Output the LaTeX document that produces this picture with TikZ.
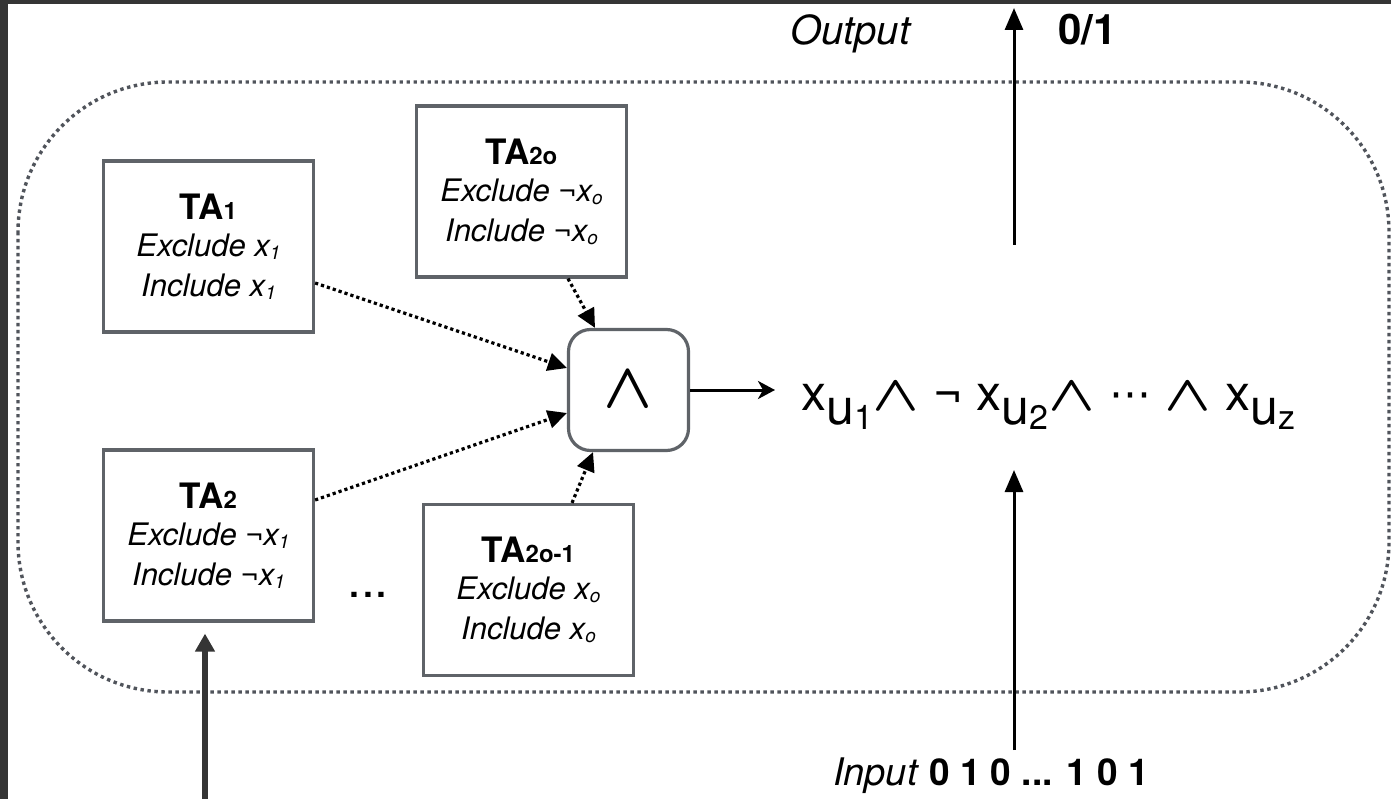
\documentclass[tikz,border=0pt]{standalone}
\usepackage{fix-cm}
\usepackage{fontspec}
\setmainfont{TeX Gyre Heros}
\newfontfamily\symfont{DejaVu Sans}
\usetikzlibrary{arrows.meta}

\definecolor{framegray}{HTML}{50545B}
\definecolor{boxgray}{HTML}{5F6368}
\definecolor{darkband}{HTML}{353535}

% subscripts: in box titles, in box lines, in the clause formula
\newcommand{\tsub}[1]{{\fontsize{24}{24}\selectfont #1}}
\newcommand{\isub}[1]{\raisebox{-3pt}{\fontsize{19}{19}\selectfont #1}}
\newcommand{\usub}[1]{\raisebox{-14pt}{u}\raisebox{-19pt}{\fontsize{34}{34}\selectfont #1}}
% logical and (box and formula), midline ellipsis
\newcommand{\andsym}{{\boldmath$\wedge$}}
\newcommand{\fand}{{\boldmath\scalebox{1.22}[1]{$\wedge$}}}
\newcommand{\midellipsis}{\raisebox{2pt}{\symfont\fontsize{42}{42}\selectfont ⋯}}

\tikzset{
  tabox/.style={draw=boxgray, line width=3.2pt, fill=white,
    minimum width=210pt, minimum height=171pt, inner sep=0pt,
    align=center, font=\fontsize{31}{40}\selectfont},
  andbox/.style={draw=boxgray, line width=3.2pt, fill=white,
    rounded corners=22pt, minimum width=120pt, minimum height=121pt,
    inner sep=0pt, font=\fontsize{64}{64}\selectfont},
  framedot/.style={draw=framegray, line width=3.4pt, dash pattern=on 3.4pt off 3.6pt},
  dotarrow/.style={black, line width=3.2pt, dash pattern=on 3.2pt off 3pt,
    -{Triangle[width=18pt,length=19pt]}},
  solidarrow/.style={black, line width=3pt, -{Stealth[width=18pt,length=17pt,inset=5pt]}},
  uparrow/.style={black, line width=3pt, -{Triangle[width=18pt,length=22pt]}},
  feedarrow/.style={darkband, line width=6.5pt, -{Triangle[width=19pt,length=18pt]}},
  lbl/.style={inner sep=0pt, anchor=base west},
}

\begin{document}
\begin{tikzpicture}[x=1pt, y=-1pt]
  \useasboundingbox (0,0) rectangle (1391,799);
  \fill[white] (0,0) rectangle (1391,799);
  % dark edges of the canvas
  \fill[darkband] (0,0) rectangle (1391,4);
  \fill[darkband] (0,0) rectangle (8,799);

  % clause boundary
  \draw[framedot, rounded corners=150pt] (18,82) rectangle (1389,692);

  % Tsetlin automata
  \node[tabox] (ta1) at (208.5,246.5)
    {{\bfseries\fontsize{35}{36}\selectfont TA\tsub{1}}\\[-3pt]
     \textit{Exclude x\isub{1}}\\ \textit{Include x\isub{1}}};
  \node[tabox] (ta2) at (208.5,535.5)
    {{\bfseries\fontsize{35}{36}\selectfont TA\tsub{2}}\\[-3pt]
     \textit{Exclude ¬x\isub{1}}\\ \textit{Include ¬x\isub{1}}};
  \node[tabox] (ta2o) at (521.5,191.5)
    {{\bfseries\fontsize{35}{36}\selectfont TA\tsub{2o}}\\[-3pt]
     \textit{Exclude ¬x\isub{o}}\\ \textit{Include ¬x\isub{o}}};
  \node[tabox] (ta2o1) at (528.5,590)
    {{\bfseries\fontsize{35}{36}\selectfont TA\tsub{2o-1}}\\[-3pt]
     \textit{Exclude x\isub{o}}\\ \textit{Include x\isub{o}}};
  \node[inner sep=0pt, anchor=base, font=\fontsize{50}{50}\selectfont] (dots) at (368,597) {...};

  % conjunction
  \node[andbox] (and) at (628.5,390) {\andsym};

  % clause formula
  \node[lbl, font=\fontsize{50}{50}\selectfont] (formula) at (801,410)
    {x\usub{1}\fand\ ¬ x\usub{2}\fand\ \midellipsis\ \fand\ x\usub{z}};

  % literals into the conjunction
  \draw[dotarrow] ([yshift=-36.5pt]ta1.east) -- ([yshift=22pt]and.west);
  \draw[dotarrow] ([yshift=35.5pt]ta2.east) -- ([yshift=-23pt]and.west);
  \draw[dotarrow] ([xshift=46.5pt]ta2o.south) -- ([xshift=-33.5pt]and.north);
  \draw[dotarrow] ([xshift=43.5pt]ta2o1.north) -- ([xshift=-35.5pt]and.south);
  \draw[solidarrow] (and.east) -- ([xshift=-26pt]formula.west |- and.east);

  % output and input
  \coordinate (outbase) at (1014,245);
  \coordinate (outtip) at (1014,8);
  \draw[uparrow] (outbase) -- (outtip);
  \node[lbl, font=\itshape\fontsize{40}{40}\selectfont] (outlbl) at (790,45) {Output};
  \node[lbl, font=\bfseries\fontsize{42}{42}\selectfont] (outval) at (1058,45) {0/1};

  \coordinate (inbase) at (1014,750);
  \coordinate (intip) at (1014,470);
  \draw[uparrow] (inbase) -- (intip);
  \node[lbl, font=\itshape\fontsize{38}{38}\selectfont] (inlbl) at (833,785) {Input};
  \node[lbl, font=\bfseries\fontsize{37}{37}\selectfont] (inval) at (929,785) {0 1 0 ... 1 0 1};

  % feedback into the automata
  \coordinate (feed) at (205,799);
  \draw[feedarrow, shorten >=11pt] (feed) -- (feed |- ta2.south);
\end{tikzpicture}
\end{document}
